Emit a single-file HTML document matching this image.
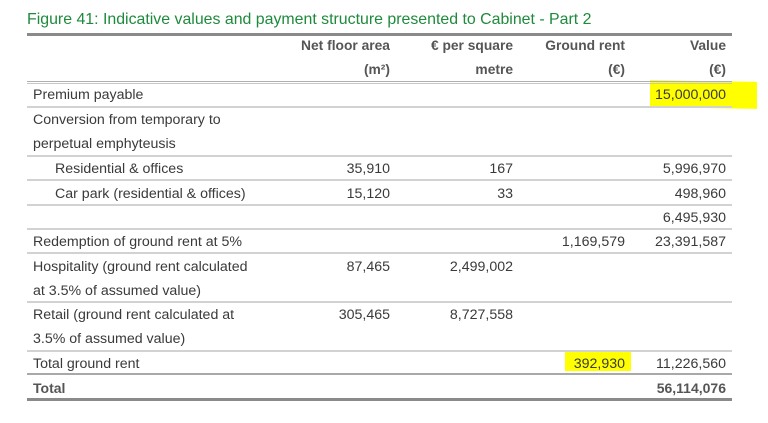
<!DOCTYPE html>
<html><head><meta charset="utf-8"><style>
html,body{margin:0;padding:0;background:#fff;}
body{width:768px;height:423px;position:relative;overflow:hidden;font-family:"Liberation Sans",sans-serif;}
.t{position:absolute;font-size:14.2px;line-height:24px;height:24px;color:#3a3a3a;white-space:nowrap;}
.r{text-align:right;}
.b{font-weight:bold;color:#555;font-size:13.8px;}
.l{position:absolute;left:27px;width:705px;}
.hl{position:absolute;background:#ffff00;}
.title{position:absolute;left:27px;top:9px;font-size:15.9px;color:#1e8a3c;white-space:nowrap;line-height:22px;}
</style></head><body>
<div class="title">Figure 41: Indicative values and payment structure presented to Cabinet - Part 2</div>

<!-- highlights -->
<div class="hl" style="left:650px;top:81px;width:107px;height:27px;transform:skewY(1deg);"></div>
<div class="hl" style="left:565px;top:350px;width:66px;height:21px;"></div>

<!-- lines -->
<div class="l" style="top:33px;height:3px;background:#8a8a8a;"></div>
<div class="l" style="top:81px;height:1px;background:#b0b0b0;"></div>
<div class="l" style="top:83px;height:1px;background:#c8c8c8;"></div>
<div class="l" style="top:106px;height:2px;background:#d2d2d2;"></div>
<div class="l" style="top:155px;height:2px;background:#d2d2d2;"></div>
<div class="l" style="top:179px;height:2px;background:#d2d2d2;"></div>
<div class="l" style="top:204px;height:2px;background:#d2d2d2;"></div>
<div class="l" style="top:228px;height:2px;background:#d2d2d2;"></div>
<div class="l" style="top:252px;height:2px;background:#d2d2d2;"></div>
<div class="l" style="top:301px;height:2px;background:#d2d2d2;"></div>
<div class="l" style="top:350px;height:2px;background:#d2d2d2;"></div>
<div class="l" style="top:373px;height:2px;background:#a8a8a8;"></div>
<div class="l" style="top:398px;height:3px;background:#8a8a8a;"></div>

<!-- header -->
<div class="t r b" style="top:34px;right:378px;">Net floor area</div>
<div class="t r b" style="top:58px;right:378px;">(m²)</div>
<div class="t r b" style="top:34px;right:255px;">€ per square</div>
<div class="t r b" style="top:58px;right:255px;">metre</div>
<div class="t r b" style="top:34px;right:143px;">Ground rent</div>
<div class="t r b" style="top:58px;right:143px;">(€)</div>
<div class="t r b" style="top:34px;right:42px;">Value</div>
<div class="t r b" style="top:58px;right:42px;">(€)</div>

<!-- rows -->
<div class="t" style="top:83px;left:33px;">Premium payable</div>
<div class="t r" style="top:83px;right:42px;">15,000,000</div>

<div class="t" style="top:108px;left:33px;">Conversion from temporary to</div>
<div class="t" style="top:132px;left:33px;">perpetual emphyteusis</div>

<div class="t" style="top:157px;left:55px;">Residential &amp; offices</div>
<div class="t r" style="top:157px;right:378px;">35,910</div>
<div class="t r" style="top:157px;right:255px;">167</div>
<div class="t r" style="top:157px;right:42px;">5,996,970</div>

<div class="t" style="top:182px;left:55px;">Car park (residential &amp; offices)</div>
<div class="t r" style="top:182px;right:378px;">15,120</div>
<div class="t r" style="top:182px;right:255px;">33</div>
<div class="t r" style="top:182px;right:42px;">498,960</div>

<div class="t r" style="top:206px;right:42px;">6,495,930</div>

<div class="t" style="top:230px;left:33px;">Redemption of ground rent at 5%</div>
<div class="t r" style="top:230px;right:143px;">1,169,579</div>
<div class="t r" style="top:230px;right:42px;">23,391,587</div>

<div class="t" style="top:255px;left:33px;">Hospitality (ground rent calculated</div>
<div class="t" style="top:279px;left:33px;">at 3.5% of assumed value)</div>
<div class="t r" style="top:255px;right:378px;">87,465</div>
<div class="t r" style="top:255px;right:255px;">2,499,002</div>

<div class="t" style="top:303px;left:33px;">Retail (ground rent calculated at</div>
<div class="t" style="top:327px;left:33px;">3.5% of assumed value)</div>
<div class="t r" style="top:303px;right:378px;">305,465</div>
<div class="t r" style="top:303px;right:255px;">8,727,558</div>

<div class="t" style="top:352px;left:33px;">Total ground rent</div>
<div class="t r" style="top:352px;right:143px;">392,930</div>
<div class="t r" style="top:352px;right:42px;">11,226,560</div>

<div class="t b" style="top:376px;left:33px;font-size:14px;">Total</div>
<div class="t r b" style="top:376px;right:42px;font-size:14px;">56,114,076</div>
</body></html>
